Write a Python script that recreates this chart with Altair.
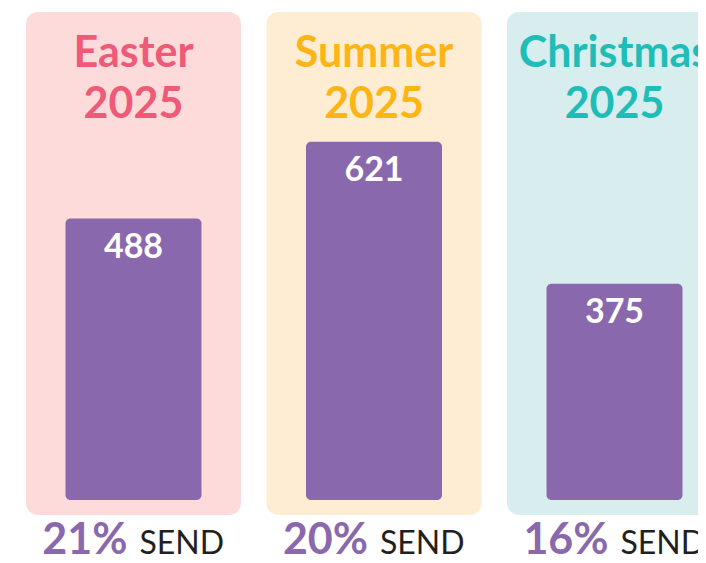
import altair as alt
import pandas as pd

# ---- data ----
seasons = ["Easter", "Summer", "Christmas"]
years = ["2025", "2025", "2025"]
attendees = [488, 621, 375]
send_pct = [21, 20, 16]

# ---- palette ----
title_colors = ["#EE5A78", "#FDB515", "#1FBDB8"]
bg_colors = ["#FDDBDB", "#FEEDD2", "#D8EDEE"]
PURPLE = "#8A68AD"
DARK = "#231F20"

df = pd.DataFrame({
    "season": seasons,
    "year": years,
    "attendees": attendees,
    "pct": [f"{p}%" for p in send_pct],
    "send": ["SEND"] * len(seasons),
})

x_enc = alt.X(
    "season:N",
    sort=seasons,
    axis=None,
    scale=alt.Scale(domain=seasons, range=[0, 732], paddingInner=0.106, paddingOuter=0.0748),
)
y_enc = alt.Y("attendees:Q", axis=None, scale=alt.Scale(domain=[0, 853], range=[492, 0]))

base = alt.Chart(df)

bg = base.mark_bar(cornerRadius=12).encode(
    x=x_enc,
    y=alt.value(4),
    y2=alt.value(507),
    color=alt.Color("season:N", scale=alt.Scale(domain=seasons, range=bg_colors), legend=None),
)

bars = base.mark_bar(width=136, cornerRadius=5, color=PURPLE).encode(
    x=x_enc,
    y=y_enc,
    y2=alt.datum(0),
)

vals = base.mark_text(font="Lato", fontWeight="bold", fontSize=34, color="white",
                      baseline="alphabetic", dy=39).encode(
    x=x_enc, y=y_enc, text="attendees:Q",
)

t1 = base.mark_text(font="Lato", fontWeight="bold", fontSize=43, baseline="alphabetic").encode(
    x=x_enc, y=alt.value(59), text="season:N",
    color=alt.Color("season:N", scale=alt.Scale(domain=seasons, range=title_colors), legend=None),
)
t2 = base.mark_text(font="Lato", fontWeight="bold", fontSize=43, baseline="alphabetic").encode(
    x=x_enc, y=alt.value(110), text="year:N",
    color=alt.Color("season:N", scale=alt.Scale(domain=seasons, range=title_colors), legend=None),
)

pct = base.mark_text(font="Lato", fontWeight="bold", fontSize=43, color=PURPLE,
                     align="right", baseline="alphabetic", dx=-6).encode(
    x=x_enc, y=alt.value(546), text="pct:N",
)
send = base.mark_text(font="Lato", fontSize=32, color=DARK,
                      align="left", baseline="alphabetic", dx=6).encode(
    x=x_enc, y=alt.value(546), text="send:N",
)

chart = alt.layer(bg, bars, vals, t1, t2, pct, send).resolve_scale(color="independent").properties(
    width=690, height=547, padding=0,
    autosize=alt.AutoSizeParams(type="none"),
).configure_view(stroke=None)

chart.save("out.html", embed_options={"renderer": "svg", "actions": False})
